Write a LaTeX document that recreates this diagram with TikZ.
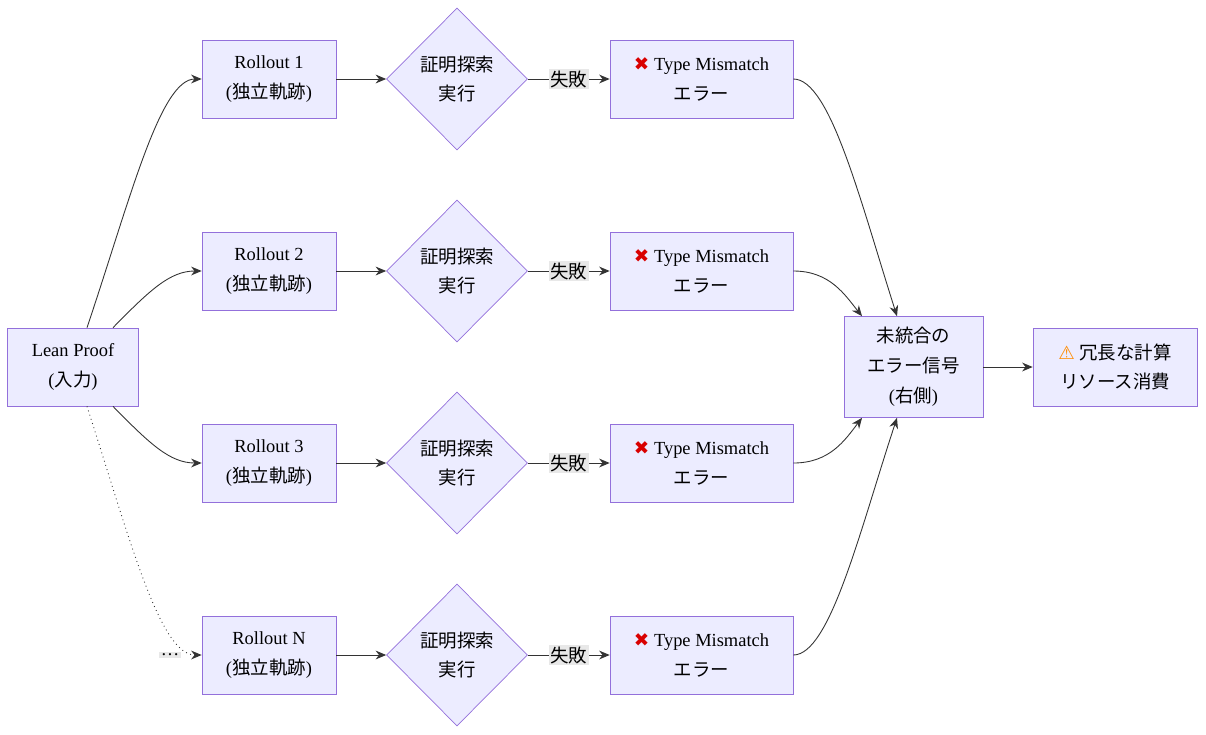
\documentclass[tikz,border=0pt]{standalone}
\usepackage{fontspec}
\setmainfont{Liberation Serif}
\newfontfamily\jp{Noto Sans CJK JP}
\newfontfamily\sym{DejaVu Sans}
\usetikzlibrary{shapes.geometric,arrows.meta}
\definecolor{boxfill}{HTML}{ECECFF}
\definecolor{boxline}{HTML}{9370DB}
\definecolor{lblbg}{HTML}{E8E8E8}
\newcommand{\failmark}{{\sym\color{red!85!black}✖}}
\newcommand{\warnmark}{{\sym\color{orange!90!yellow}⚠}}
\tikzset{
 box/.style={draw=boxline,fill=boxfill,align=center,font=\fontsize{10.5}{17}\selectfont,inner sep=0pt},
 dia/.style={draw=boxline,fill=boxfill,diamond,aspect=1,minimum width=2.82cm,minimum height=2.84cm,inner sep=0pt,align=center,font=\fontsize{10.5}{17}\selectfont},
 flow/.style={-{Stealth[length=6pt,width=5pt]},draw=black!80,line width=0.5pt},
 lbl/.style={fill=lblbg,inner sep=1pt,font=\jp\fontsize{10.5}{13}\selectfont}
}
\begin{document}
\begin{tikzpicture}[x=0.02cm,y=-0.02cm]
\useasboundingbox (0,0) rectangle (1206,734);
\node[box,minimum width=2.62cm,minimum height=1.56cm] (lean) at (73,367) {Lean Proof\\({\jp 入力})};
\foreach \i/\t/\y in {1/1/79,2/2/271,3/3/463,4/N/655}{
 \node[box,minimum width=2.68cm,minimum height=1.56cm] (r\i) at (269,\y) {Rollout \t\\({\jp 独立軌跡})};
 \node[dia] (d\i) at (457,\y) {\jp 証明探索\\\jp 実行};
 \node[box,minimum width=3.66cm,minimum height=1.56cm] (e\i) at (701.5,\y) {\failmark\ Type Mismatch\\\jp エラー};
 \draw[flow] (r\i) -- (d\i);
 \draw[flow] (d\i) -- node[lbl] {失敗} (e\i);
}
\node[box,minimum width=2.78cm,minimum height=2.02cm] (sig) at (913.5,367) {\jp 未統合の\\\jp エラー信号\\({\jp 右側})};
\node[box,minimum width=3.28cm,minimum height=1.56cm] (cost) at (1115,367) {\warnmark\ {\jp 冗長な計算}\\\jp リソース消費};
\draw[flow] (sig) -- (cost);
% fan out
\draw[flow] ([xshift=0.28cm]lean.north) .. controls (130,200) and (160,79) .. (r1.west);
\draw[flow] ([xshift=0.8cm]lean.north) .. controls (150,290) and (170,271) .. (r2.west);
\draw[flow] ([xshift=0.8cm]lean.south) .. controls (150,444) and (170,463) .. (r3.west);
\draw[flow,dotted] ([xshift=0.28cm]lean.south) .. controls (130,540) and (160,655) .. (r4.west);
\node[lbl,font=\fontsize{10.5}{13}\selectfont] (more) at (170,655) {…};
% fan in
\draw[flow] (e1.east) .. controls (830,79) and (860,200) .. ([xshift=-0.33cm]sig.north);
\draw[flow] (e2.east) .. controls (830,271) and (845,295) .. ([xshift=-1.03cm]sig.north);
\draw[flow] (e3.east) .. controls (830,463) and (845,440) .. ([xshift=-1.03cm]sig.south);
\draw[flow] (e4.east) .. controls (830,655) and (860,530) .. ([xshift=-0.33cm]sig.south);
\end{tikzpicture}
\end{document}
